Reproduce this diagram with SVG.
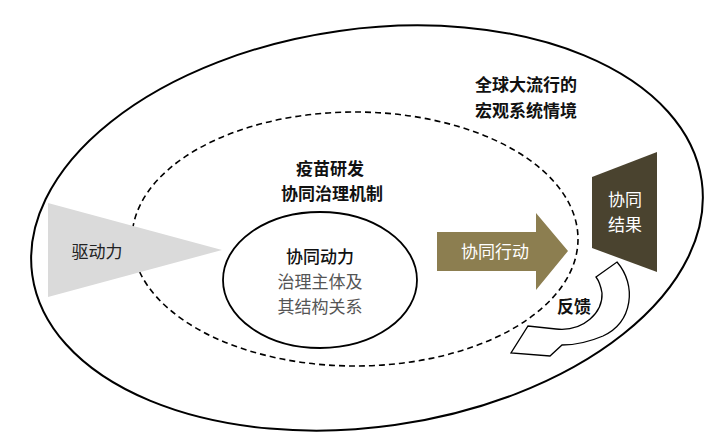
<svg xmlns="http://www.w3.org/2000/svg" width="720" height="445" viewBox="0 0 720 445">
<style>
.t{font-family:"Noto Sans CJK SC","Noto Sans",sans-serif;font-size:17px;text-anchor:middle}
.b{font-weight:bold;fill:#111}
.w{fill:#ffffff}
.g{fill:#555555}
</style>
<rect width="720" height="445" fill="#ffffff"/>
<g id="outer">
<ellipse cx="367" cy="228" rx="338" ry="199" transform="rotate(-8 367 228)" fill="none" stroke="#000" stroke-width="2"/>
<text class="t b" x="526" y="91" font-size="18">全球大流行的</text>
<text class="t b" x="526" y="117" font-size="18">宏观系统情境</text>
</g>
<g id="mechanism">
<ellipse cx="355" cy="239" rx="223" ry="127" fill="none" stroke="#000" stroke-width="1.6" stroke-dasharray="6 4"/>
<text class="t b" x="330" y="175">疫苗研发</text>
<text class="t b" x="332" y="200">协同治理机制</text>
</g>
<g id="driver">
<polygon points="48,203 222,250 48,297" fill="#dadada"/>
<text class="t" x="97" y="258" font-size="18" fill="#222">驱动力</text>
</g>
<g id="core">
<ellipse cx="320" cy="280" rx="97" ry="68" fill="#ffffff" stroke="#000" stroke-width="1.8"/>
<text class="t" x="320" y="263" fill="#111" font-weight="500">协同动力</text>
<text class="t g" x="320" y="288">治理主体及</text>
<text class="t g" x="320" y="313">其结构关系</text>
</g>
<g id="action">
<polygon points="437,232 536,232 536,213 568,251 536,290 536,271 437,271" fill="#8c7e50"/>
<text class="t w" x="495" y="258" font-size="18">协同行动</text>
</g>
<g id="result">
<polygon points="592,177 657,152 657,272 592,248" fill="#4a432f"/>
<text class="t w" x="625" y="206">协同</text>
<text class="t w" x="625" y="231">结果</text>
</g>
<g id="connectors">
<path d="M596,277 L617,262 C637,285 633,322 603,336 C589,342 575,345 562,345 L550,356 L511,353 L528,326 L556,329 C584,332 603,312 602,293 C601,287 599,281 596,277 Z" fill="#ffffff" stroke="#000" stroke-width="1.3" stroke-linejoin="miter"/>
</g>
<g id="feedback">
<text class="t b" x="574" y="313" font-size="18">反馈</text>
</g>
</svg>
